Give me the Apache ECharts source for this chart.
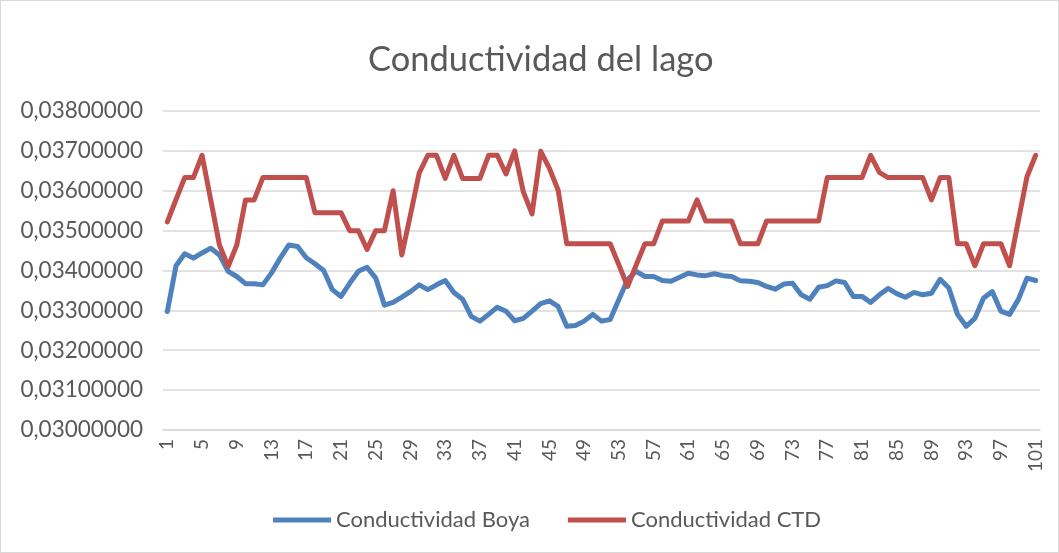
<!DOCTYPE html>
<html>
<head>
<meta charset="utf-8">
<script src="https://cdn.jsdelivr.net/npm/echarts@6/dist/echarts.min.js"></script>
<style>
html,body{margin:0;padding:0;background:#fff;}
#c{width:1057px;height:551px;border:1px solid #d9d9d9;}
</style>
</head>
<body>
<div id="c"></div>
<script>
const categories = Array.from({length: 101}, (_, i) => String(i + 1));
const boya = [
0.03297,0.03412,0.03442,0.03431,0.03444,0.03456,0.03439,0.03398,0.03385,0.03367,
0.03367,0.03364,0.03394,0.03431,0.03464,0.03460,0.03432,0.03417,0.03400,0.03352,
0.03335,0.03368,0.03398,0.03408,0.03381,0.03313,0.03320,0.03333,0.03347,0.03364,
0.03352,0.03364,0.03375,0.03345,0.03328,0.03285,0.03273,0.03290,0.03308,0.03298,
0.03274,0.03280,0.03298,0.03317,0.03324,0.03310,0.03260,0.03262,0.03273,0.03290,
0.03273,0.03277,0.03327,0.03377,0.03398,0.03385,0.03385,0.03375,0.03373,0.03383,
0.03393,0.03389,0.03387,0.03392,0.03387,0.03385,0.03374,0.03373,0.03370,0.03360,
0.03353,0.03366,0.03368,0.03339,0.03328,0.03358,0.03362,0.03374,0.03370,0.03335,
0.03335,0.03320,0.03339,0.03355,0.03342,0.03333,0.03345,0.03339,0.03343,0.03378,
0.03356,0.03290,0.03260,0.03280,0.03331,0.03347,0.03298,0.03290,0.03327,0.03381,
0.03375];
const ctd = [
0.03522,0.03578,0.03633,0.03633,0.03689,0.03577,0.03464,0.03410,0.03464,0.03577,
0.03577,0.03633,0.03633,0.03633,0.03633,0.03633,0.03633,0.03545,0.03545,0.03545,
0.03545,0.03500,0.03500,0.03453,0.03500,0.03500,0.03600,0.03439,0.03540,0.03644,
0.03689,0.03689,0.03631,0.03689,0.03631,0.03631,0.03631,0.03689,0.03689,0.03642,
0.03700,0.03597,0.03542,0.03699,0.03656,0.03602,0.03467,0.03467,0.03467,0.03467,
0.03467,0.03467,0.03414,0.03360,0.03414,0.03467,0.03467,0.03524,0.03524,0.03524,
0.03524,0.03577,0.03524,0.03524,0.03524,0.03524,0.03467,0.03467,0.03467,0.03524,
0.03524,0.03524,0.03524,0.03524,0.03524,0.03524,0.03633,0.03633,0.03633,0.03633,
0.03633,0.03689,0.03646,0.03633,0.03633,0.03633,0.03633,0.03633,0.03577,0.03633,
0.03633,0.03467,0.03467,0.03412,0.03467,0.03467,0.03467,0.03412,0.03524,0.03635,
0.03689];
const seriesNames = ['Conductividad Boya', 'Conductividad CTD'];
const title = 'Conductividad del lago';

const chart = echarts.init(document.getElementById('c'));
const txt = '#595959';
const font = 'Lato, "Open Sans", sans-serif';
chart.setOption({
  animation: false,
  title: {
    text: title, left: 362, top: 36,
    textStyle: {fontFamily: font, fontSize: 34.5, fontWeight: 'normal', color: txt}
  },
  legend: {
    bottom: 16, left: 267, itemGap: 38,
    itemWidth: 58, itemHeight: 5, icon: 'rect',
    textStyle: {fontFamily: font, fontSize: 22, color: txt},
    data: seriesNames
  },
  grid: {left: 162, right: 18, top: 110, bottom: 122, containLabel: false},
  xAxis: {
    type: 'category', data: categories, boundaryGap: true,
    axisLine: {lineStyle: {color: '#d9d9d9', width: 1.5}},
    axisTick: {show: false},
    axisLabel: {interval: 3, rotate: 90, fontFamily: font, fontSize: 19, color: txt, margin: 9}
  },
  yAxis: {
    type: 'value', min: 0.030, max: 0.038, interval: 0.001,
    axisLine: {show: false}, axisTick: {show: false},
    splitLine: {lineStyle: {color: '#d9d9d9', width: 1.5}},
    axisLabel: {
      fontFamily: font, fontSize: 22.5, color: txt, margin: 20,
      formatter: v => v.toFixed(8).replace('.', ',')
    }
  },
  series: [
    {name: seriesNames[0], type: 'line', data: boya, symbol: 'none',
     lineStyle: {width: 5, color: '#4f81bd', join: 'round', cap: 'round'}, itemStyle: {color: '#4f81bd'}},
    {name: seriesNames[1], type: 'line', data: ctd, symbol: 'none',
     lineStyle: {width: 5, color: '#c0504d', join: 'round', cap: 'round'}, itemStyle: {color: '#c0504d'}}
  ]
});
</script>
</body>
</html>
